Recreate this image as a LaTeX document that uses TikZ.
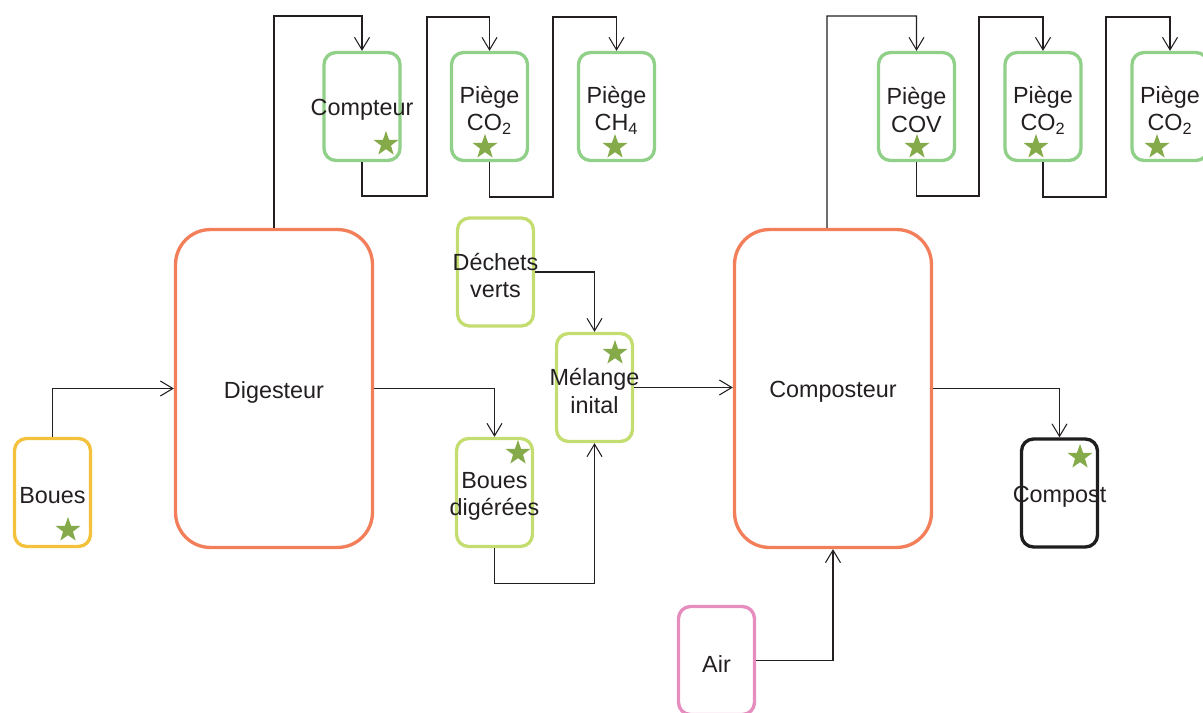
\documentclass[tikz,border=0pt]{standalone}
\usepackage{fontspec}
\setmainfont{Liberation Sans}
\usepackage{xcolor}
\usetikzlibrary{arrows.meta,shapes.geometric}

\definecolor{orangebox}{RGB}{242,126,90}
\definecolor{jaunebox}{RGB}{243,193,60}
\definecolor{vertpiege}{RGB}{144,208,136}
\definecolor{vertclair}{RGB}{196,221,113}
\definecolor{rosebox}{RGB}{230,140,190}
\definecolor{noirbox}{RGB}{30,30,30}
\definecolor{etoilevert}{RGB}{133,170,74}
\definecolor{textegris}{RGB}{35,31,32}

\tikzset{
  boite/.style={draw, rounded corners=0.24cm, line width=1.9pt, minimum width=1.52cm,
    minimum height=2.16cm, inner sep=0pt},
  grandeboite/.style={boite, rounded corners=0.7cm, minimum width=3.94cm, minimum height=6.36cm},
  texte/.style={align=center, text=textegris, inner sep=0pt, yshift=-0.07cm,
    font=\fontsize{13.3}{15.5}\selectfont},
  etoile/.style={star, star points=5, star point ratio=2.5, fill=etoilevert, minimum size=0.52cm, inner sep=0pt},
  tuyau/.style={draw=textegris, line width=0.6pt},
  flux/.style={tuyau, -{Straight Barb[length=2.5mm,width=3mm]}}
}

\begin{document}
\begin{tikzpicture}[x=0.02cm,y=-0.02cm]
  \useasboundingbox (0,0) rectangle (1203,713);
  \coordinate (haut) at (0,16);
  \coordinate (bas) at (0,196);
  % --- Digestion ---
  \node[boite, draw=jaunebox, label={[texte]center:Boues}] (boues) at (52.5,492.5) {};
  \node[grandeboite, draw=orangebox, label={[texte]center:Digesteur}] (dig) at (274,388.5) {};
  \node[boite, draw=vertpiege, label={[texte]center:Compteur}] (cpt) at (362,106.5) {};
  \node[boite, draw=vertpiege, label={[texte]center:Piège\\CO\textsubscript{2}}] (co2a) at (489.5,106.5) {};
  \node[boite, draw=vertpiege, label={[texte]center:Piège\\CH\textsubscript{4}}] (ch4) at (616.5,106.5) {};
  \node[boite, draw=vertclair, label={[texte]center:Boues\\digérées}] (bdig) at (494.5,492.5) {};
  % --- Mélange ---
  \node[boite, draw=vertclair, label={[texte]center:Déchets\\verts}] (dv) at (495.5,272) {};
  \node[boite, draw=vertclair, label={[texte]center:Mélange\\inital}] (mel) at (594.5,387.5) {};
  % --- Compostage ---
  \node[grandeboite, draw=orangebox, label={[texte]center:Composteur}] (comp) at (833,388.5) {};
  \node[boite, draw=rosebox, label={[texte]center:Air}] (air) at (716.5,660.5) {};
  \node[boite, draw=noirbox, label={[texte]center:Compost}] (compost) at (1059.5,493) {};
  \node[boite, draw=vertpiege, label={[texte]center:Piège\\COV}] (cov) at (916.5,106.5) {};
  \node[boite, draw=vertpiege, label={[texte]center:Piège\\CO\textsubscript{2}}] (co2b) at (1043,106.5) {};
  \node[boite, draw=vertpiege, label={[texte]center:Piège\\CO\textsubscript{2}}] (co2c) at (1170,106.5) {};
  % --- Etoiles ---
  \node[etoile] (e1) at (68,530) {};
  \node[etoile] (e2) at (386,144) {};
  \node[etoile] (e3) at (485,147) {};
  \node[etoile] (e4) at (615,147) {};
  \node[etoile] (e5) at (518,453) {};
  \node[etoile] (e6) at (615,353) {};
  \node[etoile] (e7) at (1080,457) {};
  \node[etoile] (e8) at (917,147) {};
  \node[etoile] (e9) at (1036,147) {};
  \node[etoile] (e10) at (1157,147) {};
  % --- Flux ---
  \draw[flux] (boues.north) |- (dig.west);
  \draw[flux] (dig.east) -| (bdig.north);
  \draw[flux] (bdig.south) -- ++(0,35) -| (mel.south);
  \draw[flux] (dv.east) -| (mel.north);
  \draw[flux] (mel.east) -- (mel.east -| comp.west);
  \draw[flux] (comp.east) -| (compost.north);
  \draw[flux] (air.east) -| (comp.south);
  % --- Gaz du digesteur ---
  \draw[flux] (dig.north) -- (dig.north |- haut) -| (cpt.north);
  \draw[flux] (cpt.south) -- (cpt.south |- bas) -- (427,196) -- (427,17) -| (co2a.north);
  \draw[flux] (co2a.south) -- (489.5,197) -- (553,197) -- (553,17) -| (ch4.north);
  % --- Gaz du composteur ---
  \draw[flux] ([xshift=-0.12cm]comp.north) -- (827,16) -| (cov.north);
  \draw[flux] (cov.south) -- (cov.south |- bas) -- (979,196) -- (979,17) -| (co2b.north);
  \draw[flux] (co2b.south) -- (1043,197) -- (1106,197) -- (1106,17) -| (co2c.north);
\end{tikzpicture}
\end{document}
